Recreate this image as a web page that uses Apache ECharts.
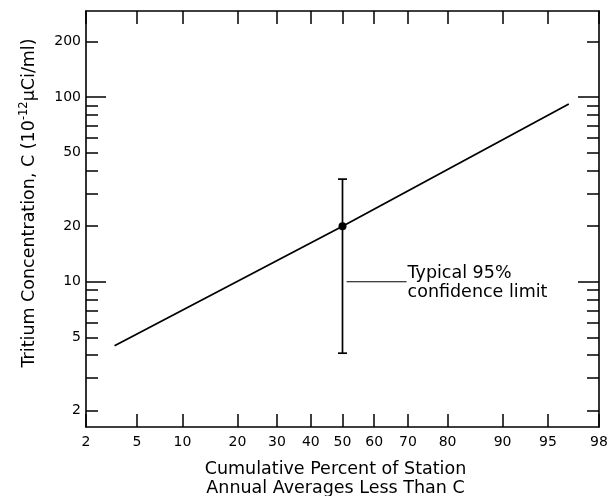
<!DOCTYPE html>
<html><head><meta charset="utf-8">
<script src="https://cdn.jsdelivr.net/npm/echarts@6/dist/echarts.min.js"></script>
<style>html,body{margin:0;padding:0;background:#fff}#c{width:613px;height:496px}</style>
</head><body><div id="c"></div>
<script>
// ---- data ----
const xTickPercents = [2, 5, 10, 20, 30, 40, 50, 60, 70, 80, 90, 95, 98];
const yLabelTicks = [2, 5, 10, 20, 50, 100, 200];
const yShortTicks = [2, 3, 4, 5, 6, 7, 8, 9, 20, 30, 40, 50, 60, 70, 80, 90, 200];
const yLongTicks = [10, 100];
const fitPercent = [3.4, 50, 96.5];
const fitConc = [4.5, 20, 92];
const pointPercent = [50];
const pointConc = [20];
const errLow = [4.1];
const errHigh = [36];
const leaderPercent = [51.3, 69.6];
const leaderConc = [10, 10];
const noteLines = ['Typical 95%', 'confidence limit'];
const xTitle = ['Cumulative Percent of Station', 'Annual Averages Less Than C'];

// normal-probability (probit) transform for the x scale
function probit(p){
  const a=[-3.969683028665376e+01,2.209460984245205e+02,-2.759285104469687e+02,1.383577518672690e+02,-3.066479806614716e+01,2.506628277459239e+00];
  const b=[-5.447609879822406e+01,1.615858368580409e+02,-1.556989798598866e+02,6.680131188771972e+01,-1.328068155288572e+01];
  const c=[-7.784894002430293e-03,-3.223964580411365e-01,-2.400758277161838e+00,-2.549732539343734e+00,4.374664141464968e+00,2.938163982698783e+00];
  const d=[7.784695709041462e-03,3.224671290700398e-01,2.445134137142996e+00,3.754408661907416e+00];
  const pl=0.02425, ph=1-pl; let q, r;
  if(p<pl){q=Math.sqrt(-2*Math.log(p));return (((((c[0]*q+c[1])*q+c[2])*q+c[3])*q+c[4])*q+c[5])/((((d[0]*q+d[1])*q+d[2])*q+d[3])*q+1);}
  if(p<=ph){q=p-0.5;r=q*q;return (((((a[0]*r+a[1])*r+a[2])*r+a[3])*r+a[4])*r+a[5])*q/(((((b[0]*r+b[1])*r+b[2])*r+b[3])*r+b[4])*r+1);}
  q=Math.sqrt(-2*Math.log(1-p));return -(((((c[0]*q+c[1])*q+c[2])*q+c[3])*q+c[4])*q+c[5])/((((d[0]*q+d[1])*q+d[2])*q+d[3])*q+1);
}
const px = v => probit(v / 100);
const xTicksZ = xTickPercents.map(px);
function xLabel(z){
  let best = 0;
  for (let i = 1; i < xTicksZ.length; i++) if (Math.abs(xTicksZ[i]-z) < Math.abs(xTicksZ[best]-z)) best = i;
  return String(xTickPercents[best]);
}

const FONT = 'DejaVu Sans';
const BLACK = '#000';
const TITLE_SIZE = 17.5;
const yMin = 1.632, yMax = 293.4;

const chart = echarts.init(document.getElementById('c'), null, {renderer: 'canvas'});
const xBase = {
  type: 'value', min: xTicksZ[0], max: xTicksZ[xTicksZ.length-1],
  splitLine: {show: false},
  axisLine: {show: true, onZero: false, lineStyle: {color: BLACK, width: 1.6}},
  axisTick: {show: true, inside: true, length: 13, customValues: xTicksZ, lineStyle: {color: BLACK, width: 1.5}}
};
const yBase = {
  type: 'log', logBase: 10, min: yMin, max: yMax,
  splitLine: {show: false}, minorTick: {show: false}
};
chart.setOption({
  animation: false,
  backgroundColor: '#fff',
  grid: {left: 86, right: 14, top: 11, bottom: 69, containLabel: false, outerBoundsMode: 'none'},
  xAxis: [
    Object.assign({}, xBase, {
      position: 'bottom',
      axisLabel: {show: true, customValues: xTicksZ, formatter: xLabel, margin: 8, fontSize: 14, color: BLACK, fontFamily: FONT},
      name: xTitle.join('\n'), nameLocation: 'middle', nameGap: 33,
      nameTextStyle: {fontSize: TITLE_SIZE, lineHeight: 19, color: BLACK, fontFamily: FONT, padding: [0, 14, 0, 0]}
    }),
    Object.assign({}, xBase, {position: 'top', axisLabel: {show: false}})
  ],
  yAxis: [
    Object.assign({}, yBase, {
      position: 'left',
      axisLine: {show: true, onZero: false, lineStyle: {color: BLACK, width: 1.6}},
      axisTick: {show: true, inside: true, length: 12, customValues: yShortTicks, lineStyle: {color: BLACK, width: 1.5}},
      axisLabel: {show: true, customValues: yLabelTicks, margin: 5, fontSize: 14, color: BLACK, fontFamily: FONT},
      name: '{t|Tritium Concentration, C (10}{s|-12}{t|μCi/ml)}',
      nameLocation: 'middle', nameGap: 45, nameRotate: 90,
      nameTextStyle: {color: BLACK, fontFamily: FONT, fontSize: TITLE_SIZE, padding: [0, 0, 0, 32],
        rich: {t: {fontSize: TITLE_SIZE, fontFamily: FONT, color: BLACK}, s: {fontSize: 11.5, fontFamily: FONT, color: BLACK, padding: [0, 0, 11, 0]}}}
    }),
    Object.assign({}, yBase, {
      position: 'left', axisLine: {show: false, onZero: false},
      axisTick: {show: true, inside: true, length: 20, customValues: yLongTicks, lineStyle: {color: BLACK, width: 1.5}},
      axisLabel: {show: false}
    }),
    Object.assign({}, yBase, {
      position: 'right',
      axisLine: {show: true, onZero: false, lineStyle: {color: BLACK, width: 1.6}},
      axisTick: {show: true, inside: true, length: 12, customValues: yShortTicks, lineStyle: {color: BLACK, width: 1.5}},
      axisLabel: {show: false}
    }),
    Object.assign({}, yBase, {
      position: 'right', axisLine: {show: false, onZero: false},
      axisTick: {show: true, inside: true, length: 21, customValues: yLongTicks, lineStyle: {color: BLACK, width: 1.5}},
      axisLabel: {show: false}
    })
  ],
  series: [
    {
      type: 'line', xAxisIndex: 0, yAxisIndex: 0, symbol: 'none',
      lineStyle: {color: BLACK, width: 1.8},
      data: fitPercent.map((p, i) => [px(p), fitConc[i]])
    },
    {
      type: 'custom', xAxisIndex: 0, yAxisIndex: 0,
      encode: {x: 0, y: [1, 2]},
      data: pointPercent.map((p, i) => [px(p), errLow[i], errHigh[i]]),
      renderItem: function (params, api) {
        const x = api.value(0);
        const lo = api.coord([x, api.value(1)]);
        const hi = api.coord([x, api.value(2)]);
        const w = 4.5;
        const st = {stroke: BLACK, lineWidth: 1.7};
        return {type: 'group', children: [
          {type: 'line', shape: {x1: lo[0], y1: lo[1], x2: hi[0], y2: hi[1]}, style: st},
          {type: 'line', shape: {x1: lo[0]-w, y1: lo[1], x2: lo[0]+w, y2: lo[1]}, style: st},
          {type: 'line', shape: {x1: hi[0]-w, y1: hi[1], x2: hi[0]+w, y2: hi[1]}, style: st}
        ]};
      }
    },
    {
      type: 'scatter', xAxisIndex: 0, yAxisIndex: 0, symbol: 'circle', symbolSize: 8,
      itemStyle: {color: BLACK, opacity: 1},
      data: pointPercent.map((p, i) => [px(p), pointConc[i]])
    },
    {
      type: 'line', xAxisIndex: 0, yAxisIndex: 0, symbol: 'none',
      lineStyle: {color: BLACK, width: 1.2},
      data: leaderPercent.map((p, i) => [px(p), leaderConc[i]])
    },
    {
      type: 'scatter', xAxisIndex: 0, yAxisIndex: 0, symbolSize: 0, silent: true,
      itemStyle: {color: BLACK, opacity: 1},
      data: [[px(leaderPercent[1]), leaderConc[1]]],
      label: {show: true, position: 'right', distance: 1, offset: [0, 1], opacity: 1,
        formatter: noteLines.join('\n'), fontSize: TITLE_SIZE, lineHeight: 19, color: BLACK, fontFamily: FONT}
    }
  ]
});
</script></body></html>
